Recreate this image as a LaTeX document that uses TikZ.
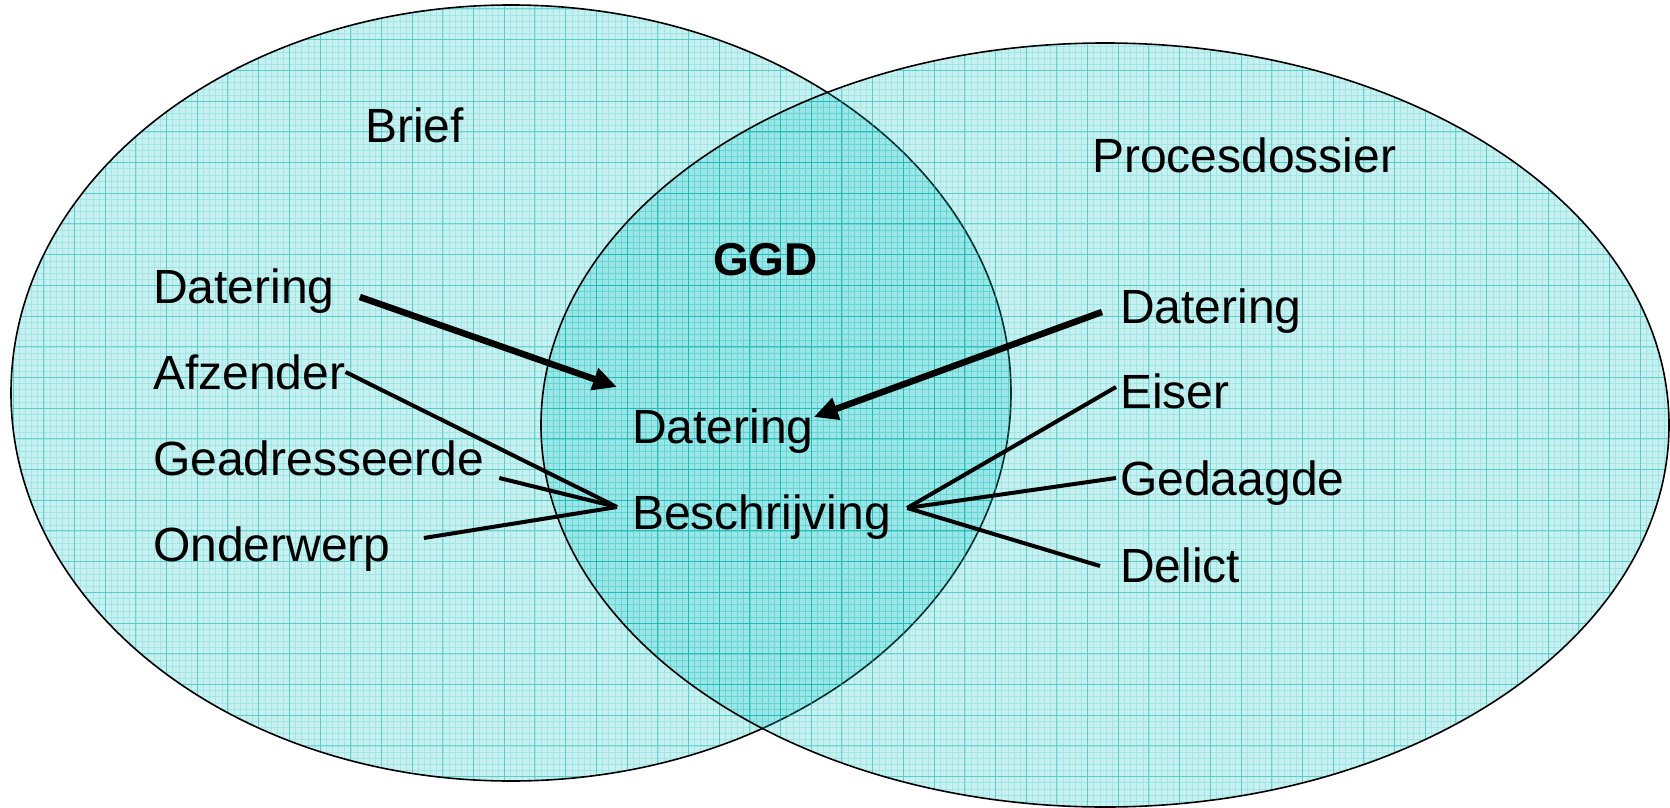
\documentclass[tikz,border=0pt]{standalone}
\usepackage{fontspec}
\setmainfont{Liberation Sans}
\usepackage{tikz}
\usepackage{xcolor}
\usetikzlibrary{arrows.meta}

\definecolor{vennfill}{RGB}{0,190,190}
\definecolor{venngrid}{RGB}{0,175,175}

\begin{document}
\begin{tikzpicture}[x=1bp,y=-1bp,
  lbl/.style={anchor=base west,inner sep=0pt,font=\fontsize{48bp}{56bp}\selectfont},
  arr/.style={line width=6.5bp,-{Triangle[length=24bp,width=22bp]}},
  lnk/.style={line width=4bp},
  setfill/.style={fill=vennfill,fill opacity=0.22},
  setline/.style={draw=black,line width=1.6bp}]
\useasboundingbox (0,0) rectangle (1670,808);

% Brief
\fill[setfill] (511,393) ellipse [x radius=500bp,y radius=388bp];
\begin{scope}
  \clip (511,393) ellipse [x radius=500bp,y radius=388bp];
  \draw[shift={(13,9)},venngrid,line width=0.4bp,opacity=0.18,step=6.14bp] (-40,-40) grid (1700,840);
  \draw[shift={(13,9)},venngrid,line width=1bp,opacity=0.45,step=30.7bp] (-40,-40) grid (1700,840);
\end{scope}
\draw[setline] (511,393) ellipse [x radius=500bp,y radius=388bp];

% Procesdossier
\fill[setfill] (1105,425) ellipse [x radius=564bp,y radius=382bp];
\begin{scope}
  \clip (1105,425) ellipse [x radius=564bp,y radius=382bp];
  \draw[shift={(13,9)},venngrid,line width=0.4bp,opacity=0.18,step=6.14bp] (-40,-40) grid (1700,840);
  \draw[shift={(13,9)},venngrid,line width=1bp,opacity=0.45,step=30.7bp] (-40,-40) grid (1700,840);
\end{scope}
\draw[setline] (1105,425) ellipse [x radius=564bp,y radius=382bp];

\node[lbl] (brief) at (365,142) {Brief};
\node[lbl] (proc) at (1092,172) {Procesdossier};
\node[lbl,font=\fontsize{46bp}{54bp}\selectfont\bfseries] (ggd) at (713,275) {GGD};

\node[lbl] (datL) at (153,303) {Datering};
\node[lbl] (afz) at (153,389) {Afzender};
\node[lbl] (gea) at (153,475) {Geadresseerde};
\node[lbl] (ond) at (153,561) {Onderwerp};

\node[lbl] (datM) at (632,443) {Datering};
\node[lbl] (besch) at (632,529) {Beschrijving};

\node[lbl] (datR) at (1120,323) {Datering};
\node[lbl] (eiser) at (1120,408) {Eiser};
\node[lbl] (gedg) at (1120,495) {Gedaagde};
\node[lbl] (delict) at (1120,582) {Delict};

\coordinate (hubL) at ([shift={(-15,-22)}]besch.base west);
\coordinate (hubR) at ([shift={(16,-21)}]besch.base east);

\draw[arr] ([shift={(25,-6)}]datL.base east) -- ([shift={(-15,-56)}]datM.base west);
\draw[arr] ([shift={(-18,-11)}]datR.base west) -- ([shift={(0,-26)}]datM.base east);

\draw[lnk] ([shift={(0,-17)}]afz.base east) -- (hubL);
\draw[lnk] ([shift={(15,3)}]gea.base east) -- (hubL);
\draw[lnk] ([shift={(33,-23)}]ond.base east) -- (hubL);

\draw[lnk] (hubR) -- ([shift={(-4,-21)}]eiser.base west);
\draw[lnk] (hubR) -- ([shift={(-4,-17)}]gedg.base west);
\draw[lnk] (hubR) -- ([shift={(-20,-16)}]delict.base west);

\end{tikzpicture}
\end{document}
